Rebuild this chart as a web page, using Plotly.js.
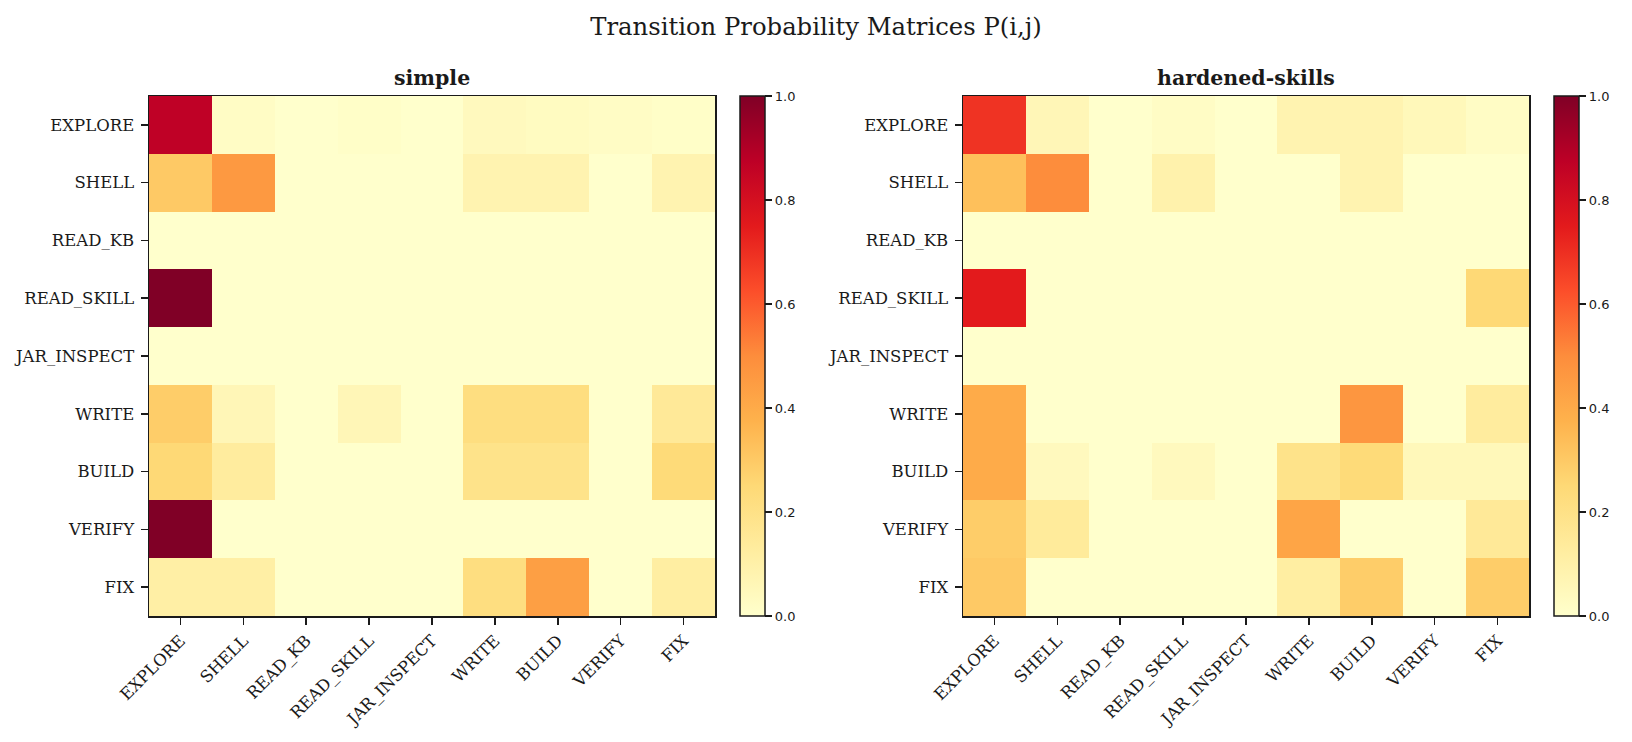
<!DOCTYPE html>
<html>
<head>
<meta charset="utf-8">
<script src="https://cdn.plot.ly/plotly-3.0.1.min.js"></script>
<style>
  html, body { margin: 0; padding: 0; background: #ffffff; }
  #chart { width: 1632px; height: 742px; }
</style>
</head>
<body>
<div id="chart"></div>
<script>
// Agent states (rows = from state i, columns = to state j)
const states = ['EXPLORE', 'SHELL', 'READ_KB', 'READ_SKILL', 'JAR_INSPECT', 'WRITE', 'BUILD', 'VERIFY', 'FIX'];

// P(i,j) for the "simple" configuration
const simpleP = [
  [0.87, 0.02, 0.00, 0.01, 0.00, 0.04, 0.03, 0.02, 0.01],
  [0.30, 0.46, 0.00, 0.00, 0.00, 0.08, 0.08, 0.00, 0.08],
  [0.00, 0.00, 0.00, 0.00, 0.00, 0.00, 0.00, 0.00, 0.00],
  [1.00, 0.00, 0.00, 0.00, 0.00, 0.00, 0.00, 0.00, 0.00],
  [0.00, 0.00, 0.00, 0.00, 0.00, 0.00, 0.00, 0.00, 0.00],
  [0.29, 0.06, 0.00, 0.06, 0.00, 0.22, 0.22, 0.00, 0.15],
  [0.25, 0.13, 0.00, 0.00, 0.00, 0.19, 0.19, 0.00, 0.24],
  [1.00, 0.00, 0.00, 0.00, 0.00, 0.00, 0.00, 0.00, 0.00],
  [0.11, 0.11, 0.00, 0.00, 0.00, 0.22, 0.44, 0.00, 0.12]
];

// P(i,j) for the "hardened-skills" configuration
const hardenedP = [
  [0.69, 0.06, 0.00, 0.02, 0.00, 0.08, 0.08, 0.05, 0.02],
  [0.33, 0.50, 0.00, 0.09, 0.00, 0.00, 0.08, 0.00, 0.00],
  [0.00, 0.00, 0.00, 0.00, 0.00, 0.00, 0.00, 0.00, 0.00],
  [0.75, 0.00, 0.00, 0.00, 0.00, 0.00, 0.00, 0.00, 0.25],
  [0.00, 0.00, 0.00, 0.00, 0.00, 0.00, 0.00, 0.00, 0.00],
  [0.40, 0.00, 0.00, 0.00, 0.00, 0.00, 0.47, 0.00, 0.13],
  [0.40, 0.04, 0.00, 0.04, 0.00, 0.19, 0.24, 0.05, 0.05],
  [0.29, 0.14, 0.00, 0.00, 0.00, 0.42, 0.00, 0.00, 0.15],
  [0.30, 0.00, 0.00, 0.00, 0.00, 0.12, 0.29, 0.00, 0.29]
];

const panelTitles = ['simple', 'hardened-skills'];
const colorTicks = [0, 0.2, 0.4, 0.6, 0.8, 1.0];

// Yellow-orange-red sequential scale
const ylOrRd = [
  [0.000, '#ffffcc'], [0.125, '#ffeda0'], [0.250, '#fed976'],
  [0.375, '#feb24c'], [0.500, '#fd8d3c'], [0.625, '#fc4e2a'],
  [0.750, '#e31a1c'], [0.875, '#bd0026'], [1.000, '#800026']
];

const W = 1632, H = 742;
const serif = 'DejaVu Serif, serif';
const sans = 'DejaVu Sans, sans-serif';
const ink = '#1a1a1a';

// plot-area geometry in pixels
const plotTop = 96, plotBottom = 616;
const panels = [
  { x0: 149, x1: 715, cb: 740 },
  { x0: 963, x1: 1529, cb: 1554 }
];

const yDom = [(H - plotBottom) / H, (H - plotTop) / H];

function colorbar(px) {
  return {
    x: px / W, xanchor: 'left', xpad: 0,
    y: yDom[0], yanchor: 'bottom', ypad: 0,
    lenmode: 'pixels', len: plotBottom - plotTop,
    thickness: 25,
    outlinewidth: 1.5, outlinecolor: ink,
    tickmode: 'array', tickvals: colorTicks, tickformat: '.1f',
    ticks: 'outside', ticklen: 7, tickwidth: 1.5, tickcolor: ink,
    tickfont: { family: sans, size: 13, color: ink }
  };
}

const data = [simpleP, hardenedP].map((z, k) => ({
  type: 'heatmap',
  z: z, x: states, y: states,
  xaxis: k === 0 ? 'x' : 'x2',
  yaxis: k === 0 ? 'y' : 'y2',
  zmin: 0, zmax: 1,
  colorscale: ylOrRd,
  colorbar: colorbar(panels[k].cb),
  hoverongaps: false
}));

function xAxis(p, anchor) {
  return {
    domain: [p.x0 / W, p.x1 / W], anchor: anchor,
    type: 'category', showgrid: false, zeroline: false,
    showline: true, mirror: true, linecolor: ink, linewidth: 1.5,
    ticks: 'outside', ticklen: 7, tickwidth: 1.5, tickcolor: ink,
    tickangle: -45,
    tickfont: { family: serif, size: 16.5, color: ink }
  };
}
function yAxis(anchor) {
  return {
    domain: yDom, anchor: anchor,
    type: 'category', autorange: 'reversed',
    showgrid: false, zeroline: false,
    showline: true, mirror: true, linecolor: ink, linewidth: 1.5,
    ticks: 'outside', ticklen: 7, tickwidth: 1.5, tickcolor: ink,
    ticklabelstandoff: 3,
    tickfont: { family: serif, size: 16.5, color: ink }
  };
}

const layout = {
  width: W, height: H,
  margin: { l: 0, r: 0, t: 0, b: 0 },
  paper_bgcolor: '#ffffff', plot_bgcolor: '#ffffff',
  showlegend: false,
  title: {
    text: 'Transition Probability Matrices P(i,j)',
    x: 0.5, xanchor: 'center', xref: 'paper',
    y: 1 - 26 / H, yanchor: 'middle', yref: 'container',
    font: { family: serif, size: 24.3, color: ink }
  },
  xaxis: xAxis(panels[0], 'y'),
  yaxis: yAxis('x'),
  xaxis2: xAxis(panels[1], 'y2'),
  yaxis2: yAxis('x2'),
  annotations: panels.map((p, k) => ({
    text: '<b>' + panelTitles[k] + '</b>',
    xref: 'paper', yref: 'paper',
    x: (p.x0 + p.x1) / 2 / W, y: (H - 78) / H,
    xanchor: 'center', yanchor: 'middle',
    showarrow: false,
    font: { family: serif, size: 20.5, color: ink }
  }))
};

Plotly.newPlot('chart', data, layout, { displayModeBar: false, staticPlot: true });
</script>
</body>
</html>
